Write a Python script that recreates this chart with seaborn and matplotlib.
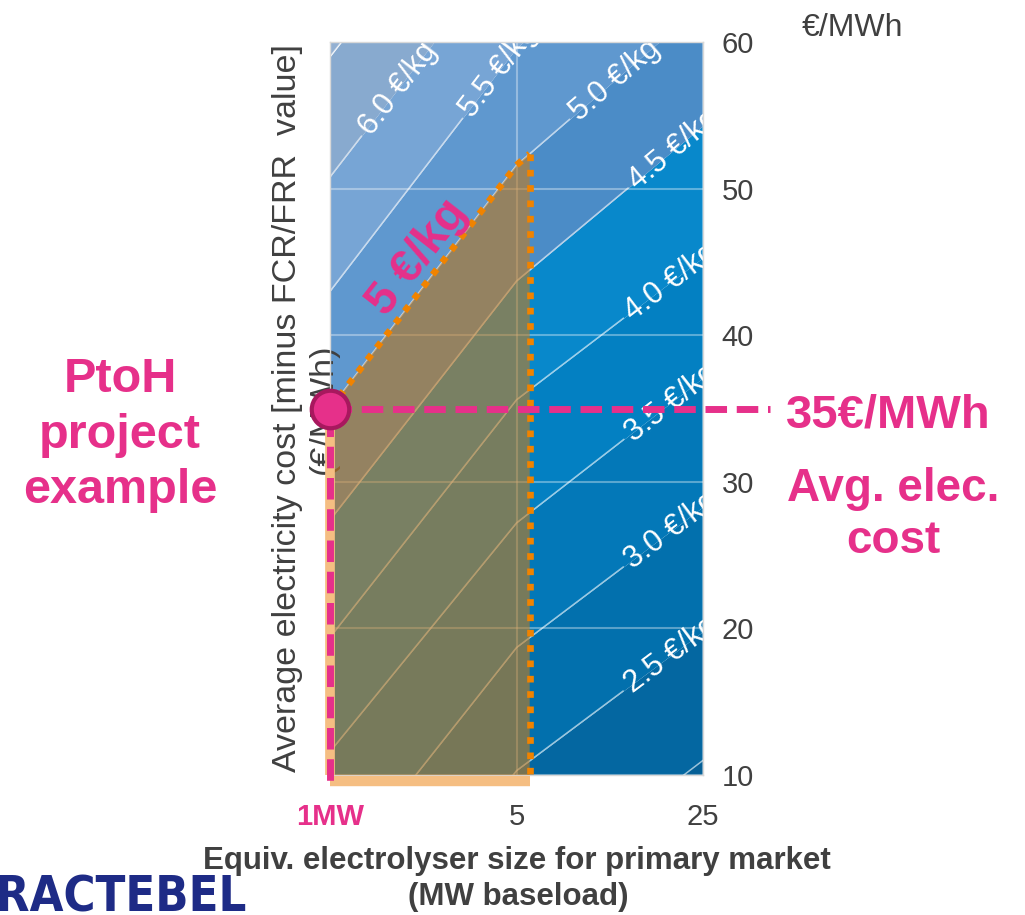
import numpy as np
import pandas as pd
import matplotlib
matplotlib.use("Agg")
import matplotlib.pyplot as plt
from matplotlib.ticker import FixedLocator, NullLocator
from matplotlib.transforms import offset_copy
import seaborn as sns

# ---- data -------------------------------------------------------------
# electrolyser sizes (MW baseload) at which the iso-cost lines are read
sizes = [1, 5, 25]
# hydrogen cost levels (EUR/kg) and the electricity price (EUR/MWh) where
# each level is reached for 1 MW, 5 MW and 25 MW
cost_levels   = [2.0, 2.5, 3.0, 3.5, 4.0, 4.5, 5.0, 5.5, 6.0, 6.5]
price_at_1mw  = [-15.0, -6.0, 2.6, 11.6, 19.4, 27.4, 35.0, 43.0, 50.8, 59.0]
price_at_5mw  = [1.3, 10.3, 18.7, 27.2, 35.6, 43.7, 51.6, 59.6, 67.3, 75.3]
price_at_25mw = [11.0, 19.8, 28.3, 37.1, 45.3, 54.3, 62.6, 70.5, 78.3, 86.3]
# where along each line its label sits (MW); None = unlabelled
label_sizes   = [None, 19.0, 19.0, 19.0, 19.0, 19.5, 11.7, 4.3, 1.8, None]
# fill colour of the band above each level (first entry: below lowest)
band_colors = ["#055f96", "#0467a1", "#0270ad", "#0378b8", "#0380c2",
               "#0888cb", "#4b8cc7", "#5f98cf", "#77a5d5", "#88aacf",
               "#93b0d2"]

# project example
project_size = 1
project_price = 35
project_cost = 5.0
primary_size_max = 5.6

x_ticks = [1, 5, 25]
x_ticklabels = ["1MW", "5", "25"]
y_ticks = [10, 20, 30, 40, 50, 60]

PINK = "#E6308A"
PINK_EDGE = "#A8185E"
ORANGE_DOT = "#F08300"
ORANGE_FILL = "#C67C1E"
ORANGE_EDGE = "#F5BE82"
GRAY = "#404040"
NAVY = "#1E2B86"

# ---- figure -----------------------------------------------------------
sns.set_theme(style="white")
plt.rcParams["font.family"] = ["Liberation Sans", "DejaVu Sans"]

fig = plt.figure(figsize=(10.25, 9.15), dpi=100)
ax = fig.add_axes([0.322, 0.153, 0.3639, 0.8011])
ax.set_xscale("log")
ax.set_xlim(1, 25)
ax.set_ylim(10, 60)

lines_y = np.array([price_at_1mw, price_at_5mw, price_at_25mw]).T
xs = np.array(sizes, dtype=float)

# coloured cost bands between consecutive iso-cost lines
lo_edge = np.full_like(xs, -200.0)
hi_edge = np.full_like(xs, 300.0)
bounds = [lo_edge] + list(lines_y) + [hi_edge]
for i, col in enumerate(band_colors):
    ax.fill_between(xs, bounds[i], bounds[i + 1], color=col, lw=0, zorder=0.2)

# grid
ax.set_axisbelow("line")
ax.xaxis.set_major_locator(FixedLocator(x_ticks))
ax.xaxis.set_minor_locator(NullLocator())
ax.set_xticklabels(x_ticklabels)
ax.set_yticks(y_ticks)
ax.grid(True, color="white", alpha=0.35, lw=1.5)

# iso-cost lines, broken where their label sits
inv = ax.transData.inverted()
gap = 60
rows = []
for k, (lvl, ys, lx) in enumerate(zip(cost_levels, lines_y, label_sizes)):
    if lx is None:
        for x, y in zip(xs, ys):
            rows.append((x, y, f"{k}a"))
        continue
    P = ax.transData.transform(np.column_stack([xs, ys]))
    ly = np.interp(np.log10(lx), np.log10(xs), ys)
    C = ax.transData.transform([[lx, ly]])[0]
    s = 0 if lx < xs[1] else 1
    d = P[s + 1] - P[s]
    d = d / np.hypot(*d)
    A = inv.transform([C - gap * d])[0]
    B = inv.transform([C + gap * d])[0]
    for x, y in zip(xs, ys):
        if x < A[0]:
            rows.append((x, y, f"{k}a"))
    rows.append((A[0], A[1], f"{k}a"))
    rows.append((B[0], B[1], f"{k}b"))
    for x, y in zip(xs, ys):
        if x > B[0]:
            rows.append((x, y, f"{k}b"))
    ang = np.degrees(np.arctan2(d[1], d[0]))
    ax.text(lx, ly, f"{lvl:.1f} €/kg", rotation=ang, rotation_mode="anchor",
            ha="center", va="center", color="white", fontsize=22,
            clip_on=True, zorder=2.5)

iso = pd.DataFrame(rows, columns=["size", "price", "seg"])
sns.lineplot(data=iso, x="size", y="price", units="seg", estimator=None,
             sort=False, color="white", lw=1.1, alpha=0.6, ax=ax,
             legend=False, zorder=2)

# primary-market area under the project cost line
k5 = cost_levels.index(project_cost)
top_y = np.interp(np.log10(primary_size_max), np.log10(xs), lines_y[k5])
poly_x = [project_size, xs[1], primary_size_max, primary_size_max, project_size]
poly_y = [project_price, lines_y[k5][1], top_y, 10, 10]
ax.fill(poly_x, poly_y, color=ORANGE_FILL, alpha=0.6, lw=0, zorder=3)
ax.plot([project_size, project_size], [project_price, 10], color=ORANGE_EDGE,
        lw=7, solid_capstyle="butt", zorder=3.5, clip_on=False)
below = offset_copy(ax.transData, fig=fig, x=0, y=-6, units="dots")
ax.plot([project_size, primary_size_max], [10, 10], color=ORANGE_EDGE,
        lw=7.5, solid_capstyle="butt", zorder=3.5, clip_on=False,
        transform=below)
ax.plot(poly_x[:3], poly_y[:3], color=ORANGE_DOT, lw=4.8,
        dashes=(1, 1.3), dash_capstyle="butt", zorder=4)
ax.plot([primary_size_max, primary_size_max], [top_y, 10], color=ORANGE_DOT,
        lw=4.8, dashes=(1, 1.3), dash_capstyle="butt", zorder=4, clip_on=False)

# project guide lines and marker
ax.plot([0, 1.18], [project_price, project_price],
        transform=ax.get_yaxis_transform(), color=PINK, lw=5,
        dashes=(3.1, 1.4), dash_capstyle="butt", clip_on=False, zorder=5)
ax.plot([project_size, project_size], [project_price, 10], color=PINK, lw=5,
        dashes=(3.1, 1.4), dash_capstyle="butt", clip_on=False, zorder=5,
        transform=below)
ax.plot([project_size], [project_price], marker="o", ms=27, mfc=PINK,
        mec=PINK_EDGE, mew=3, clip_on=False, zorder=6)

ax.text(2.14, 45.3, f"{project_cost:g} €/kg", rotation=52,
        rotation_mode="anchor", ha="center", va="center", color=PINK,
        fontsize=34, fontweight="bold", zorder=6)

# axes styling
ax.set_xlim(1, 25)
ax.set_ylim(10, 60)
ax.yaxis.tick_right()
ax.yaxis.set_label_position("left")
ax.tick_params(axis="both", length=0, labelsize=21, labelcolor=GRAY)
ax.tick_params(axis="x", pad=20)
ax.tick_params(axis="y", pad=13.5)
xt = ax.get_xticklabels()
xt[0].set_color(PINK)
xt[0].set_fontweight("bold")
for sp in ax.spines.values():
    sp.set_color("#d8d8d8")
    sp.set_linewidth(1)

ax.set_ylabel("Average electricity cost [minus FCR/FRR  value]\n(€/MWh)",
              fontsize=24.5, color=GRAY)
ax.yaxis.set_label_coords(0.024, 0.5)
ax.set_xlabel("Equiv. electrolyser size for primary market",
              fontsize=22.5, fontweight="bold", color=GRAY, labelpad=11)
fig.text(518 / 1025, 1 - 897 / 915, "(MW baseload)", ha="center",
         va="center", fontsize=22.5, fontweight="bold", color=GRAY)

fig.text(852 / 1025, 1 - 28 / 915, "€/MWh", ha="center", va="center",
         fontsize=23, color=GRAY)
fig.text(120 / 1025, 1 - 435 / 915, "PtoH\nproject\nexample", ha="center",
         va="center", fontsize=35, fontweight="bold", color=PINK,
         linespacing=1.3)
fig.text(888 / 1025, 1 - 415 / 915, f"{project_price}€/MWh", ha="center",
         va="center", fontsize=34, fontweight="bold", color=PINK)
fig.text(893 / 1025, 1 - 515 / 915, "Avg. elec.\ncost", ha="center",
         va="center", fontsize=33, fontweight="bold", color=PINK,
         linespacing=1.25)
fig.text(247 / 1025, 3 / 915, "TRACTEBEL", ha="right", va="baseline",
         fontsize=35, fontweight="bold", color=NAVY,
         family=["DejaVu Sans"], fontstretch="condensed")

fig.savefig("out.png", dpi=100, facecolor="white")
